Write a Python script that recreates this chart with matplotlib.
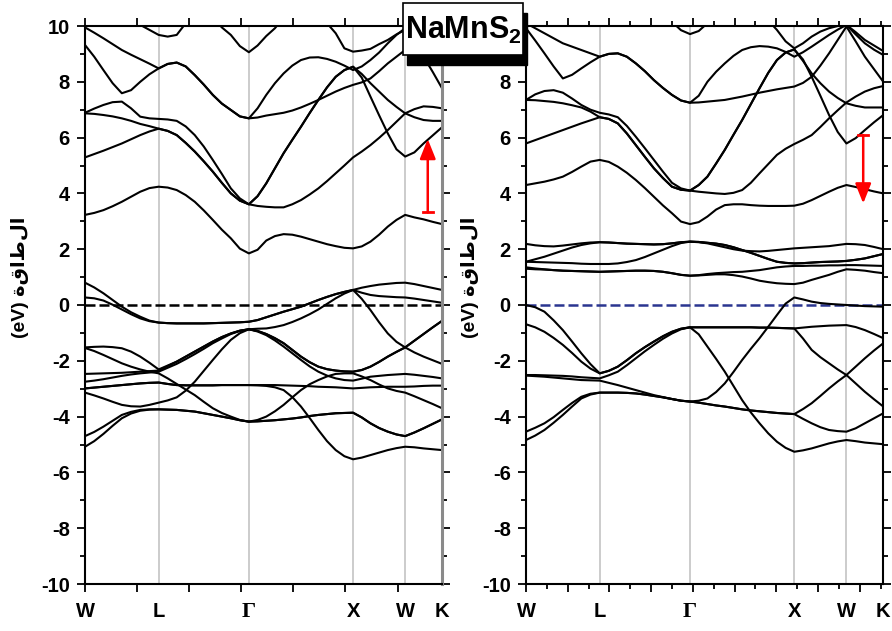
import numpy as np
import matplotlib
matplotlib.use('Agg')
import matplotlib.pyplot as plt
from matplotlib.patches import Rectangle
from matplotlib.ticker import MultipleLocator, FuncFormatter

plt.rcParams['font.family'] = ['Liberation Sans', 'DejaVu Sans']
plt.rcParams['font.weight'] = 'bold'
plt.rcParams['axes.unicode_minus'] = False
plt.rcParams['mathtext.fontset'] = 'custom'
plt.rcParams['mathtext.rm'] = 'Liberation Sans:bold'
plt.rcParams['mathtext.bf'] = 'Liberation Sans:bold'

# k-path W-L-G-X-W-K, in units of 2pi/a
sym_pos = [0.0, 0.7071, 1.5731, 2.5731, 3.0731, 3.4267]
sym_labels = ['W', 'L', 'Γ', 'X', 'W', 'K']
n_div = [8, 10, 12, 6, 4]

# ---- left panel bands (eV) ----
left_cb1 = [3.23, 3.30, 3.40, 3.54, 3.70, 3.88, 4.06, 4.19, 4.24,
            4.21, 4.12, 3.94, 3.70, 3.39, 3.05, 2.70, 2.39, 2.02, 1.85,
            1.98, 2.31, 2.47, 2.54, 2.52, 2.45, 2.36, 2.27, 2.18, 2.11, 2.05, 2.03,
            2.10, 2.27, 2.52, 2.81, 3.05, 3.23,
            3.14, 3.07, 2.98, 2.90]
left_cb2 = [5.29, 5.41, 5.53, 5.66, 5.79, 5.94, 6.09, 6.22, 6.32,
            6.24, 6.09, 5.81, 5.50, 5.15, 4.78, 4.38, 4.00, 3.74, 3.61,
            3.55, 3.52, 3.50, 3.50, 3.61, 3.76, 3.96, 4.18, 4.44, 4.72, 5.00, 5.29,
            5.50, 5.73, 5.99, 6.27, 6.57, 6.87,
            7.02, 7.12, 7.10, 7.05]
left_cb3 = [6.87, 6.85, 6.81, 6.76, 6.69, 6.60, 6.49, 6.41, 6.32,
            6.24, 6.09, 5.81, 5.50, 5.15, 4.78, 4.38, 4.00, 3.74, 3.61,
            3.90, 4.36, 4.90, 5.44, 5.92, 6.39, 6.88, 7.35, 7.80, 8.18, 8.42, 8.54,
            8.15, 7.47, 6.80, 6.15, 5.58, 5.32,
            5.47, 5.79, 6.08, 6.37]
left_cb4 = [6.89, 7.04, 7.17, 7.27, 7.29, 7.05, 6.75, 6.69, 6.67,
            6.65, 6.60, 6.40, 6.09, 5.68, 5.20, 4.70, 4.18, 3.82, 3.61,
            3.90, 4.36, 4.90, 5.44, 5.92, 6.39, 6.88, 7.35, 7.80, 8.18, 8.42, 8.54,
            8.28, 7.95, 7.65, 7.35, 7.10, 6.87,
            6.73, 6.63, 6.60, 6.60]
left_cb5 = [9.32, 8.90, 8.42, 7.95, 7.59, 7.70, 8.00, 8.27, 8.48,
            8.64, 8.69, 8.55, 8.24, 7.90, 7.53, 7.22, 6.99, 6.76, 6.69,
            7.05, 7.53, 7.95, 8.30, 8.58, 8.78, 8.87, 8.88, 8.82, 8.72, 8.58, 8.42,
            8.55, 8.78, 9.05, 9.38, 9.68, 9.92,
            9.45, 8.90, 8.35, 7.77]
left_cb6 = [9.95, 9.76, 9.56, 9.35, 9.14, 8.97, 8.81, 8.65, 8.48,
            8.64, 8.69, 8.55, 8.24, 7.90, 7.53, 7.22, 6.99, 6.76, 6.69,
            6.72, 6.79, 6.84, 6.89, 6.97, 7.08, 7.21, 7.35, 7.50, 7.65, 7.78, 7.89,
            7.98, 8.12, 8.38, 8.66, 8.90, 9.14,
            9.33, 9.50, 9.58, 9.62]
left_cb7 = [10.2, 10.1, 10.04, 10.08, 10.1, 10.1, 10.04, 9.86, 9.68,
            9.62, 9.68, 10.1, 10.4, 10.5, 10.3, 9.95, 9.68, 9.28, 9.06,
            9.30, 9.64, 9.92, 10.3, 10.5, 10.5, 10.5, 10.4, 10.1, 9.74, 9.20, 9.08,
            9.12, 9.18, 9.35, 9.50, 9.70, 9.86,
            10.0, 10.1, 10.15, 10.2]

left_vb1 = [0.80, 0.63, 0.42, 0.18, -0.06, -0.26, -0.42, -0.56, -0.63,
            -0.65, -0.66, -0.66, -0.66, -0.66, -0.65, -0.64, -0.63, -0.62, -0.60,
            -0.54, -0.44, -0.34, -0.24, -0.15, -0.06, 0.06, 0.18, 0.29, 0.39, 0.47, 0.54,
            0.62, 0.68, 0.73, 0.76, 0.79, 0.80,
            0.75, 0.68, 0.61, 0.54]
left_vb2 = [0.27, 0.24, 0.16, 0.01, -0.16, -0.33, -0.48, -0.58, -0.63,
            -0.65, -0.66, -0.66, -0.66, -0.66, -0.65, -0.64, -0.63, -0.62, -0.60,
            -0.54, -0.44, -0.34, -0.24, -0.15, -0.06, 0.06, 0.18, 0.29, 0.39, 0.47, 0.54,
            0.44, 0.36, 0.32, 0.30, 0.28, 0.27,
            0.23, 0.18, 0.13, 0.08]
left_vb3 = [-1.52, -1.50, -1.49, -1.51, -1.55, -1.67, -1.85, -2.07, -2.31,
            -2.17, -2.03, -1.85, -1.67, -1.49, -1.31, -1.15, -1.02, -0.92, -0.87,
            -0.93, -1.04, -1.19, -1.37, -1.61, -1.85, -2.05, -2.21, -2.30, -2.35, -2.38, -2.39,
            -2.33, -2.21, -2.04, -1.85, -1.68, -1.52,
            -1.28, -1.04, -0.80, -0.57]
left_vb4 = [-2.47, -2.46, -2.45, -2.44, -2.43, -2.41, -2.39, -2.37, -2.35,
            -2.19, -2.03, -1.85, -1.67, -1.49, -1.31, -1.15, -1.02, -0.92, -0.87,
            -0.95, -1.08, -1.27, -1.49, -1.73, -1.97, -2.20, -2.39, -2.53, -2.63, -2.69, -2.71,
            -2.64, -2.57, -2.54, -2.51, -2.49, -2.47,
            -2.50, -2.54, -2.58, -2.63]
left_vb5 = [-2.75, -2.71, -2.66, -2.60, -2.54, -2.49, -2.45, -2.42, -2.39,
            -2.25, -2.11, -1.94, -1.76, -1.57, -1.37, -1.20, -1.04, -0.93, -0.87,
            -0.85, -0.84, -0.79, -0.72, -0.61, -0.48, -0.33, -0.16, 0.04, 0.24, 0.41, 0.54,
            0.22, -0.18, -0.62, -1.02, -1.32, -1.52,
            -1.70, -1.85, -1.98, -2.11]
left_vb6 = [-1.54, -1.65, -1.79, -1.94, -2.09, -2.21, -2.31, -2.39, -2.45,
            -2.63, -2.83, -3.03, -3.23, -3.47, -3.70, -3.87, -4.00, -4.12, -4.18,
            -4.17, -4.15, -4.13, -4.10, -4.07, -4.03, -3.98, -3.94, -3.91, -3.88, -3.87, -3.86,
            -4.03, -4.24, -4.41, -4.54, -4.64, -4.70,
            -4.57, -4.42, -4.26, -4.10]
left_vb7 = [-2.99, -2.96, -2.93, -2.90, -2.87, -2.84, -2.81, -2.79, -2.78,
            -2.83, -2.87, -2.88, -2.88, -2.88, -2.88, -2.87, -2.87, -2.87, -2.87,
            -2.87, -2.87, -2.87, -2.88, -2.89, -2.90, -2.91, -2.93, -2.94, -2.95, -2.97, -2.99,
            -2.97, -2.95, -2.94, -2.93, -2.93, -2.93,
            -2.92, -2.90, -2.89, -2.89]
left_vb8 = [-3.14, -3.24, -3.35, -3.47, -3.58, -3.63, -3.64, -3.58, -3.50,
            -3.42, -3.31, -3.07, -2.75, -2.36, -1.97, -1.59, -1.25, -1.01, -0.87,
            -0.93, -1.04, -1.19, -1.37, -1.61, -1.85, -2.05, -2.21, -2.30, -2.35, -2.38, -2.39,
            -2.33, -2.21, -2.04, -1.85, -1.68, -1.52,
            -1.28, -1.04, -0.80, -0.57]
left_vb9 = [-4.70, -4.55, -4.36, -4.15, -3.94, -3.83, -3.76, -3.74, -3.74,
            -3.75, -3.76, -3.79, -3.82, -3.88, -3.94, -4.00, -4.06, -4.13, -4.18,
            -4.12, -4.00, -3.81, -3.58, -3.31, -3.05, -2.84, -2.69, -2.56, -2.47, -2.45, -2.45,
            -2.56, -2.69, -2.85, -2.99, -3.08, -3.14,
            -3.27, -3.41, -3.55, -3.70]
left_vb10 = [-2.99, -2.96, -2.93, -2.90, -2.87, -2.84, -2.81, -2.79, -2.78,
             -2.83, -2.87, -2.88, -2.88, -2.88, -2.88, -2.87, -2.87, -2.87, -2.87,
             -2.88, -2.90, -2.95, -3.05, -3.30, -3.64, -4.05, -4.48, -4.88, -5.20, -5.42, -5.53,
             -5.47, -5.38, -5.29, -5.20, -5.13, -5.08,
             -5.10, -5.14, -5.17, -5.20]
left_vb11 = [-5.08, -4.88, -4.62, -4.33, -4.06, -3.89, -3.79, -3.75, -3.74,
             -3.75, -3.76, -3.79, -3.82, -3.88, -3.94, -4.00, -4.06, -4.13, -4.18,
             -4.17, -4.15, -4.13, -4.10, -4.07, -4.03, -3.98, -3.94, -3.91, -3.88, -3.87, -3.86,
             -4.03, -4.24, -4.41, -4.54, -4.64, -4.70,
             -4.57, -4.42, -4.26, -4.10]

# ---- right panel bands (eV) ----
right_cb1 = [4.30, 4.36, 4.42, 4.50, 4.60, 4.77, 4.96, 5.14, 5.20,
             5.13, 4.96, 4.74, 4.48, 4.19, 3.88, 3.57, 3.29, 2.99, 2.90,
             2.97, 3.17, 3.42, 3.58, 3.61, 3.61, 3.58, 3.56, 3.55, 3.55, 3.55, 3.56,
             3.63, 3.76, 3.91, 4.06, 4.20, 4.30,
             4.23, 4.15, 4.07, 4.00]
right_cb2 = [5.79, 5.91, 6.03, 6.15, 6.27, 6.39, 6.51, 6.62, 6.73,
             6.67, 6.51, 6.15, 5.73, 5.31, 4.90, 4.55, 4.24, 4.13, 4.10,
             4.06, 4.03, 4.00, 3.98, 4.02, 4.12, 4.38, 4.72, 5.05, 5.38, 5.60, 5.77,
             5.92, 6.09, 6.38, 6.69, 6.98, 7.26,
             7.47, 7.65, 7.77, 7.85]
right_cb3 = [7.35, 7.34, 7.31, 7.28, 7.23, 7.16, 7.08, 6.93, 6.73,
             6.67, 6.51, 6.15, 5.73, 5.31, 4.90, 4.55, 4.24, 4.13, 4.10,
             4.30, 4.60, 5.07, 5.56, 6.10, 6.63, 7.20, 7.77, 8.32, 8.78, 9.05, 9.16,
             8.80, 8.18, 7.50, 6.81, 6.20, 5.79,
             5.98, 6.27, 6.55, 6.81]
right_cb4 = [7.35, 7.55, 7.67, 7.70, 7.61, 7.40, 7.17, 7.00, 6.89,
             6.83, 6.73, 6.42, 6.03, 5.62, 5.20, 4.78, 4.38, 4.18, 4.10,
             4.30, 4.60, 5.07, 5.56, 6.10, 6.63, 7.20, 7.77, 8.32, 8.78, 9.05, 9.16,
             8.75, 8.30, 7.95, 7.65, 7.42, 7.23,
             7.14, 7.08, 7.08, 7.08]
right_cb5 = [10.1, 9.92, 9.74, 9.56, 9.38, 9.26, 9.14, 9.02, 8.90,
             9.00, 9.02, 8.90, 8.66, 8.38, 8.06, 7.78, 7.53, 7.33, 7.25,
             7.50, 8.00, 8.36, 8.66, 8.93, 9.14, 9.24, 9.28, 9.26, 9.20, 9.07, 8.90,
             9.06, 9.26, 9.47, 9.68, 9.87, 10.04,
             9.70, 9.38, 9.15, 8.96]
right_cb6 = [9.92, 9.48, 9.02, 8.55, 8.12, 8.25, 8.48, 8.70, 8.90,
             9.00, 9.02, 8.90, 8.66, 8.38, 8.06, 7.78, 7.53, 7.33, 7.25,
             7.26, 7.29, 7.32, 7.35, 7.41, 7.47, 7.54, 7.61, 7.67, 7.73, 7.78, 7.83,
             7.96, 8.18, 8.58, 9.02, 9.50, 9.98,
             9.45, 8.90, 8.45, 8.00]
right_cb7 = [10.3, 10.3, 10.3, 10.3, 10.3, 10.3, 10.3, 10.3, 10.2,
             10.2, 10.2, 10.25, 10.3, 10.3, 10.3, 10.25, 10.15, 9.85, 9.71,
             9.82, 10.1, 10.3, 10.4, 10.5, 10.5, 10.5, 10.5, 10.2, 9.86, 9.45, 9.20,
             9.38, 9.62, 9.80, 9.92, 10.0, 10.04,
             9.78, 9.50, 9.30, 9.10]

right_d1 = [2.19, 2.14, 2.11, 2.10, 2.13, 2.17, 2.21, 2.24, 2.25,
            2.24, 2.22, 2.20, 2.19, 2.18, 2.17, 2.18, 2.21, 2.25, 2.27,
            2.25, 2.21, 2.14, 2.07, 2.00, 1.95, 1.93, 1.92, 1.94, 1.97, 2.00, 2.03,
            2.05, 2.07, 2.09, 2.11, 2.15, 2.19,
            2.18, 2.15, 2.08, 2.00]
right_d2 = [1.55, 1.64, 1.73, 1.84, 1.95, 2.06, 2.15, 2.21, 2.25,
            2.24, 2.22, 2.20, 2.19, 2.18, 2.17, 2.18, 2.21, 2.25, 2.27,
            2.26, 2.23, 2.20, 2.15, 2.07, 1.97, 1.87, 1.76, 1.65, 1.55, 1.51, 1.49,
            1.50, 1.52, 1.54, 1.55, 1.56, 1.58,
            1.62, 1.67, 1.75, 1.83]
right_d3 = [1.55, 1.54, 1.53, 1.52, 1.51, 1.50, 1.48, 1.47, 1.47,
            1.47, 1.49, 1.54, 1.61, 1.72, 1.85, 1.98, 2.11, 2.22, 2.27,
            2.26, 2.23, 2.20, 2.15, 2.07, 1.97, 1.87, 1.76, 1.65, 1.55, 1.51, 1.49,
            1.50, 1.52, 1.54, 1.55, 1.56, 1.58,
            1.62, 1.67, 1.75, 1.83]
right_d4 = [1.35, 1.31, 1.28, 1.25, 1.23, 1.22, 1.21, 1.20, 1.19,
            1.20, 1.21, 1.22, 1.23, 1.23, 1.22, 1.19, 1.14, 1.08, 1.05,
            1.07, 1.11, 1.14, 1.16, 1.18, 1.19, 1.22, 1.25, 1.30, 1.35, 1.38, 1.40,
            1.40, 1.41, 1.41, 1.42, 1.42, 1.43,
            1.43, 1.42, 1.41, 1.40]
right_d5 = [1.30, 1.28, 1.27, 1.25, 1.23, 1.22, 1.21, 1.20, 1.19,
            1.20, 1.21, 1.22, 1.23, 1.23, 1.22, 1.19, 1.14, 1.08, 1.05,
            1.06, 1.08, 1.10, 1.10, 1.07, 1.02, 0.95, 0.87, 0.82, 0.78, 0.76, 0.75,
            0.80, 0.90, 0.99, 1.08, 1.19, 1.28,
            1.26, 1.23, 1.18, 1.14]

right_vb1 = [0.00, -0.08, -0.24, -0.55, -0.90, -1.31, -1.73, -2.12, -2.45,
             -2.36, -2.21, -1.98, -1.73, -1.51, -1.31, -1.12, -0.96, -0.85, -0.80,
             -0.80, -0.80, -0.80, -0.80, -0.80, -0.80, -0.80, -0.81, -0.81, -0.82, -0.83, -0.84,
             -0.81, -0.78, -0.76, -0.74, -0.73, -0.72,
             -0.79, -0.90, -1.04, -1.19]
right_vb2 = [-0.69, -0.80, -0.96, -1.18, -1.43, -1.72, -2.03, -2.28, -2.45,
             -2.36, -2.21, -1.98, -1.73, -1.51, -1.31, -1.12, -0.96, -0.85, -0.80,
             -0.80, -0.80, -0.80, -0.80, -0.80, -0.80, -0.80, -0.81, -0.81, -0.82, -0.83, -0.84,
             -1.20, -1.61, -1.87, -2.09, -2.31, -2.51,
             -2.81, -3.11, -3.38, -3.64]
right_vb3 = [-2.51, -2.51, -2.52, -2.53, -2.54, -2.56, -2.59, -2.61, -2.63,
             -2.52, -2.39, -2.16, -1.91, -1.66, -1.43, -1.21, -1.02, -0.87, -0.80,
             -1.05, -1.49, -1.93, -2.39, -2.90, -3.41, -3.85, -4.24, -4.60, -4.90, -5.12, -5.26,
             -5.21, -5.14, -5.05, -4.96, -4.89, -4.84,
             -4.88, -4.93, -4.96, -4.99]
right_vb4 = [-2.53, -2.55, -2.57, -2.60, -2.63, -2.66, -2.69, -2.70, -2.71,
             -2.79, -2.87, -2.96, -3.05, -3.14, -3.23, -3.30, -3.37, -3.43, -3.46,
             -3.43, -3.35, -3.12, -2.81, -2.40, -1.97, -1.57, -1.19, -0.78, -0.36, 0.05, 0.27,
             0.20, 0.12, 0.07, 0.04, 0.02, 0.00,
             -0.02, -0.04, -0.05, -0.06]
right_vb5 = [-4.54, -4.40, -4.24, -4.02, -3.76, -3.51, -3.29, -3.18, -3.14,
             -3.14, -3.14, -3.15, -3.17, -3.21, -3.26, -3.31, -3.37, -3.43, -3.46,
             -3.50, -3.55, -3.60, -3.64, -3.69, -3.74, -3.78, -3.81, -3.84, -3.87, -3.89, -3.91,
             -3.73, -3.52, -3.26, -2.99, -2.74, -2.51,
             -2.21, -1.91, -1.63, -1.37]
right_vb6 = [-4.84, -4.68, -4.48, -4.22, -3.94, -3.64, -3.35, -3.21, -3.14,
             -3.14, -3.14, -3.15, -3.17, -3.21, -3.26, -3.31, -3.37, -3.43, -3.46,
             -3.50, -3.55, -3.60, -3.64, -3.69, -3.74, -3.78, -3.81, -3.84, -3.87, -3.89, -3.91,
             -4.08, -4.24, -4.38, -4.48, -4.52, -4.54,
             -4.42, -4.24, -4.06, -3.88]

# gap arrows: (k, start E, end E)
left_arrow = (3.29, 3.32, 5.95)
right_arrow = (3.234, 6.09, 3.64)

title = 'NaMnS$_{2}$'
ylabel = '(eV) ' + 'الطاقة'[::-1]

kpts = [sym_pos[0]]
for i, n in enumerate(n_div):
    kpts += list(np.linspace(sym_pos[i], sym_pos[i + 1], n + 1)[1:])
kpts = np.array(kpts)

left_bands = [left_cb1, left_cb2, left_cb3, left_cb4, left_cb5, left_cb6, left_cb7,
              left_vb1, left_vb2, left_vb3, left_vb4, left_vb5, left_vb6, left_vb7,
              left_vb8, left_vb9, left_vb10, left_vb11]
right_bands = [right_cb1, right_cb2, right_cb3, right_cb4, right_cb5, right_cb6, right_cb7,
               right_d1, right_d2, right_d3, right_d4, right_d5,
               right_vb1, right_vb2, right_vb3, right_vb4, right_vb5, right_vb6]


def draw_panel(ax, bands, fermi_color, major, minor=None):
    for x in sym_pos[1:-1]:
        ax.axvline(x, color='#c4c4c4', lw=1.2, zorder=0)
    for e in bands:
        ax.plot(kpts, e, color='k', lw=1.5, zorder=2, solid_joinstyle='round')
    ax.axhline(0, color=fermi_color, lw=1.8, dashes=(4, 1.6), zorder=1)
    ax.set_xlim(sym_pos[0], sym_pos[-1])
    ax.set_ylim(-10, 10)
    ax.xaxis.set_major_locator(MultipleLocator(major))
    if minor:
        ax.xaxis.set_minor_locator(MultipleLocator(minor))
    ax.yaxis.set_major_locator(MultipleLocator(2))
    ax.yaxis.set_minor_locator(MultipleLocator(1))
    ax.tick_params(which='both', direction='out', top=True, right=True,
                   labelbottom=False, width=1.3, labelsize=14.5, pad=5)
    ax.tick_params(which='major', length=6)
    ax.tick_params(which='minor', length=3.5)
    for s in ax.spines.values():
        s.set_linewidth(1.5)
    for x, lab in zip(sym_pos, sym_labels):
        if lab == 'Γ':
            ax.text(x, -0.033, lab, transform=ax.get_xaxis_transform(), ha='center',
                    va='top', fontsize=16, family=['Liberation Serif', 'DejaVu Serif'])
        else:
            ax.text(x, -0.033, lab, transform=ax.get_xaxis_transform(), ha='center',
                    va='top', fontsize=14.5)


def gap_arrow(ax, k, e0, e1):
    ax.annotate('', xy=(k, e1), xytext=(k, e0),
                arrowprops=dict(arrowstyle='-|>,head_length=0.8,head_width=0.32',
                                color='red', lw=1.8, mutation_scale=15,
                                shrinkA=0, shrinkB=0), zorder=4)
    ax.plot([k - 0.05, k + 0.05], [e0, e0], color='red', lw=2, zorder=4)


fig = plt.figure(figsize=(8.92, 6.31), dpi=100)
ax1 = fig.add_axes([85 / 892, 47 / 631, 357 / 892, 558 / 631])
ax2 = fig.add_axes([526 / 892, 47 / 631, 357.3 / 892, 558 / 631])

draw_panel(ax1, left_bands, 'k', 0.5)
draw_panel(ax2, right_bands, '#2a3590', 0.4, 0.2)
ax1.spines['right'].set_color('#8a8a8a')
ax1.spines['right'].set_linewidth(2.2)
# the top label of the right panel sits under the title box
ax2.yaxis.set_major_formatter(FuncFormatter(lambda v, p: '' if v > 9.5 else '%d' % v))

gap_arrow(ax1, *left_arrow)
gap_arrow(ax2, *right_arrow)

fig.text(20 / 892, 1 - 277 / 631, ylabel, rotation=90, ha='center', va='center',
         fontsize=14, family=['Liberation Sans', 'DejaVu Sans'])
fig.text(470 / 892, 1 - 277 / 631, ylabel, rotation=90, ha='center', va='center',
         fontsize=14, family=['Liberation Sans', 'DejaVu Sans'])

# title box with drop shadow
bx, by, bw, bh = 403 / 892, 1 - 55 / 631, 120 / 892, 52 / 631
fig.patches.append(Rectangle((bx + 4 / 892, by - 10 / 631), bw, bh, transform=fig.transFigure,
                             facecolor='k', edgecolor='k', zorder=5))
fig.patches.append(Rectangle((bx, by), bw, bh, transform=fig.transFigure,
                             facecolor='white', edgecolor='k', lw=1.2, zorder=6))
fig.text(bx + bw / 2, by + bh / 2 - 1 / 631, title, ha='center', va='center', fontsize=22,
         zorder=7)

fig.savefig('out.png', dpi=100)
